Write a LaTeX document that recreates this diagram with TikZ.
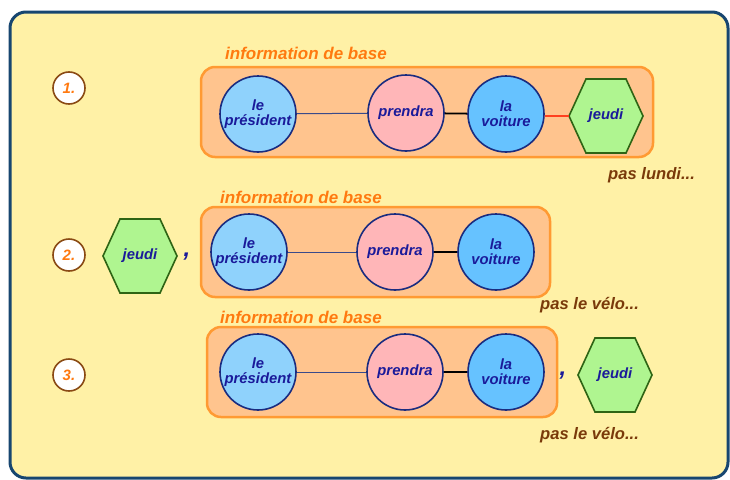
\documentclass[tikz,border=0pt]{standalone}
\usepackage{fontspec}
\setmainfont{Liberation Sans}
\definecolor{framec}{HTML}{174670}
\definecolor{bgc}{HTML}{FFF1A6}
\definecolor{boxfill}{HTML}{FFC48E}
\definecolor{boxline}{HTML}{FF9A33}
\definecolor{orangetxt}{HTML}{FF7A10}
\definecolor{browntxt}{HTML}{7A3A0A}
\definecolor{numline}{HTML}{8A4A14}
\definecolor{navy}{HTML}{1A2C80}
\definecolor{txtblue}{HTML}{1A1A9A}
\definecolor{presfill}{HTML}{8FD2FC}
\definecolor{voitfill}{HTML}{66C2FF}
\definecolor{prenfill}{HTML}{FFB6B8}
\definecolor{jeudfill}{HTML}{AFF590}
\definecolor{jeudline}{HTML}{2E6414}
\definecolor{redline}{HTML}{FF4020}
\definecolor{greyline}{HTML}{3A4A8A}
\begin{document}
\begin{tikzpicture}[x=1pt,y=-1pt,
  ftxt/.style={font=\fontsize{14.8}{15}\selectfont\bfseries\itshape, text=txtblue, align=center},
  word/.style={ftxt, circle, draw=navy, line width=1.6pt, minimum size=76pt, inner sep=0pt},
  pres/.style={word, fill=presfill},
  pren/.style={word, fill=prenfill},
  voit/.style={word, fill=voitfill},
  hexbox/.style={ftxt, minimum width=74pt, minimum height=74pt, inner sep=0pt},
  hexline/.style={draw=jeudline, fill=jeudfill, line width=1.6pt, line join=miter},
  group/.style={draw=boxline, fill=boxfill, line width=2.5pt, rounded corners=14pt},
  infolab/.style={font=\fontsize{17}{17}\selectfont\bfseries\itshape, text=orangetxt, anchor=west, inner sep=0pt},
  paslab/.style={font=\fontsize{16.6}{16}\selectfont\bfseries\itshape, text=browntxt, anchor=west, inner sep=0pt},
  numc/.style={circle, draw=numline, fill=white, line width=1.6pt, minimum size=32pt, inner sep=0pt, font=\fontsize{15}{15}\selectfont\bfseries\itshape, text=orangetxt},
  commac/.style={font=\fontsize{24}{24}\selectfont\bfseries\itshape, text=txtblue, inner sep=0pt},
  thinl/.style={draw=greyline, line width=1pt},
  thickl/.style={draw=black, line width=1.8pt},
  redl/.style={draw=redline, line width=2.2pt}]
\useasboundingbox (0,0) rectangle (730,479);
\fill[white] (0,0) rectangle (730,479);
\draw[framec, fill=bgc, line width=3pt, rounded corners=16pt] (10,12) rectangle (728,478);

% Row 1
\node[numc] (n1) at (69,88) {1.};
\node[infolab] (i1) at (225,53) {information de base};
\draw[group] (201,67) rectangle (653,157);
\node[pres] (p1) at (258,114) {le\\président};
\node[pren] (r1) at (406,113) {prendra};
\node[voit] (v1) at (506,114) {la\\voiture};
\draw[hexline] (569,116) -- (586,79) -- (626,79) -- (643,116) -- (626,153) -- (586,153) -- cycle;
\node[hexbox] (j1) at (606,116) {jeudi};
\draw[thinl] (p1) -- (r1);
\draw[thickl] (r1) -- (v1);
\draw[redl] (v1.east |- j1.west) -- (j1.west);
\node[paslab] (pl1) at (608,175) {pas lundi...};

% Row 2
\node[numc] (n2) at (69,255) {2.};
\draw[hexline] (103,256) -- (120,219) -- (160,219) -- (177,256) -- (160,293) -- (120,293) -- cycle;
\node[hexbox] (j2) at (140,256) {jeudi};
\node[commac] (c2) at (187,257) {,};
\node[infolab] (i2) at (220,197) {information de base};
\draw[group] (201,207) rectangle (550,297);
\node[pres] (p2) at (249,252) {le\\président};
\node[pren] (r2) at (395,252) {prendra};
\node[voit] (v2) at (496,252) {la\\voiture};
\draw[thinl] (p2) -- (r2);
\draw[thickl] (r2) -- (v2);
\node[paslab] (pl2) at (540,305) {pas le vélo...};

% Row 3
\node[numc] (n3) at (69,375) {3.};
\node[infolab] (i3) at (220,317) {information de base};
\draw[group] (207,327) rectangle (557,417);
\node[pres] (p3) at (258,372) {le\\président};
\node[pren] (r3) at (405,372) {prendra};
\node[voit] (v3) at (506,372) {la\\voiture};
\draw[thinl] (p3) -- (r3);
\draw[thickl] (r3) -- (v3);
\node[commac] (c3) at (563,376) {,};
\draw[hexline] (578,375) -- (595,338) -- (635,338) -- (652,375) -- (635,412) -- (595,412) -- cycle;
\node[hexbox] (j3) at (615,375) {jeudi};
\node[paslab] (pl3) at (540,435) {pas le vélo...};
\end{tikzpicture}
\end{document}
